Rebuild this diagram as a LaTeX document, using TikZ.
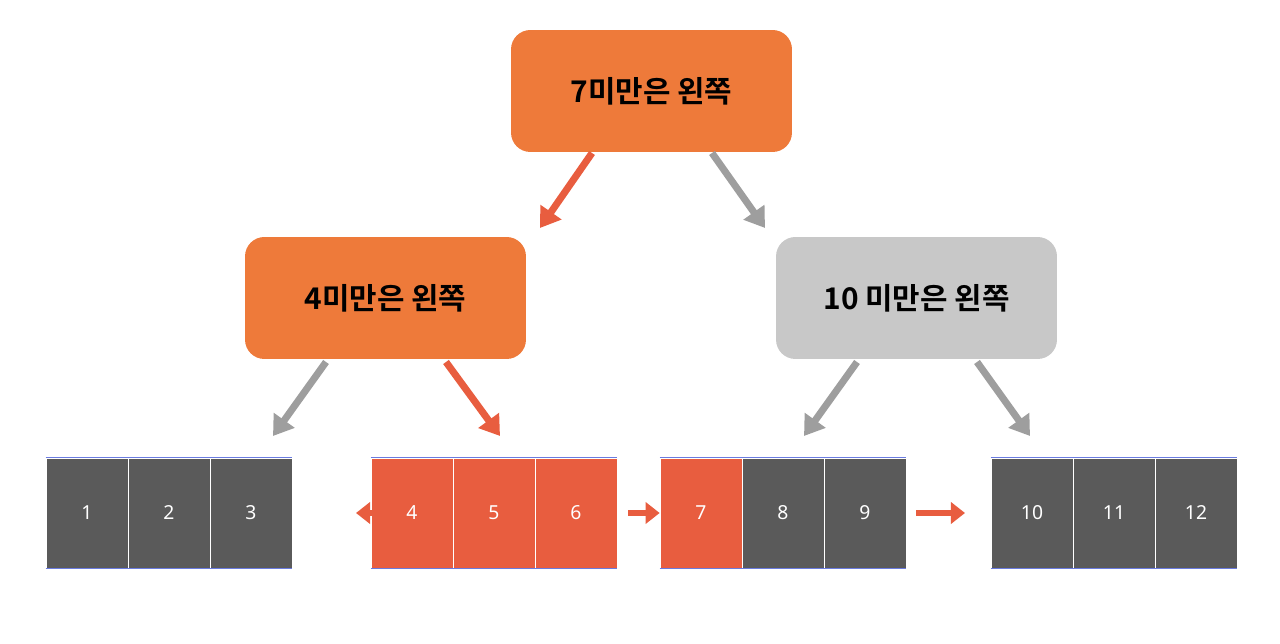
\documentclass[tikz,border=0pt]{standalone}
\usepackage{fontspec}
\setmainfont{Noto Sans}
\newfontfamily\kr{Noto Sans CJK KR}[BoldFont={Noto Sans CJK KR Bold}]
\usetikzlibrary{arrows.meta, positioning}
\definecolor{orangebox}{HTML}{EE7A3A}
\definecolor{redcell}{HTML}{E85D3F}
\definecolor{darkcell}{HTML}{5A5A5A}
\definecolor{greybox}{HTML}{C8C8C8}
\definecolor{greyarrow}{HTML}{9E9E9E}
\definecolor{celledge}{HTML}{6A7BE0}
\tikzset{
  keybox/.style={rounded corners=11pt, minimum width=5.62cm, minimum height=2.44cm,
    font=\kr\bfseries\fontsize{17}{20}\selectfont, inner sep=0pt},
  leafcell/.style={minimum width=1.64cm, minimum height=2.2cm, inner sep=0pt,
    draw=white, line width=0.4pt, text=white, font=\fontsize{11}{13}\selectfont},
  fat/.style={line width=4pt, -{Triangle[length=11pt, width=14pt]}},
  thin/.style={line width=3pt, -{Triangle[length=8pt, width=12pt]}}
}
\begin{document}
\begin{tikzpicture}[x=0.02cm, y=-0.02cm]
  \useasboundingbox (0,0) rectangle (1280,644);
  % inner keys
  \node[keybox, fill=orangebox] (root) at (651.5,91) {7미만은 왼쪽};
  \node[keybox, fill=orangebox] (lkey) at (385.5,298) {4미만은 왼쪽};
  \node[keybox, fill=greybox] (rkey) at (916.5,298) {10 미만은 왼쪽};
  % leaves
  \foreach \x/\n/\c in {87/1/darkcell, 169/2/darkcell, 251/3/darkcell,
      412/4/redcell, 494/5/redcell, 576/6/redcell,
      701/7/redcell, 783/8/darkcell, 865/9/darkcell,
      1032/10/darkcell, 1114/11/darkcell, 1196/12/darkcell}
    \node[leafcell, fill=\c] (c\n) at (\x,513) {\n};
  \foreach \a/\b in {c1/c3, c4/c6, c7/c9, c10/c12}
    \draw[celledge, line width=0.5pt] (\a.north west) -- (\b.north east)
      (\a.south west) -- (\b.south east);
  % arrow ends
  \coordinate (r1) at (540,228);
  \coordinate (r2) at (765,228);
  \coordinate (l1) at (273,436);
  \coordinate (l2) at (500,436);
  \coordinate (k1) at (804,436);
  \coordinate (k2) at (1030,436);
  \draw[fat, redcell] (592,153) -- (r1);
  \draw[fat, greyarrow] (712,153) -- (r2);
  \draw[fat, greyarrow] (326,362) -- (l1);
  \draw[fat, redcell] (446,362) -- (l2);
  \draw[fat, greyarrow] (857,362) -- (k1);
  \draw[fat, greyarrow] (977,362) -- (k2);
  % leaf links
  \draw[thin, redcell] ([xshift=15\pgflinewidth]c3.east) ++(14,0) -- (356,513);
  \draw[thin, redcell] (628,513) -- (c7.west);
  \draw[thin, redcell] (916,513) -- (965,513);
\end{tikzpicture}
\end{document}
